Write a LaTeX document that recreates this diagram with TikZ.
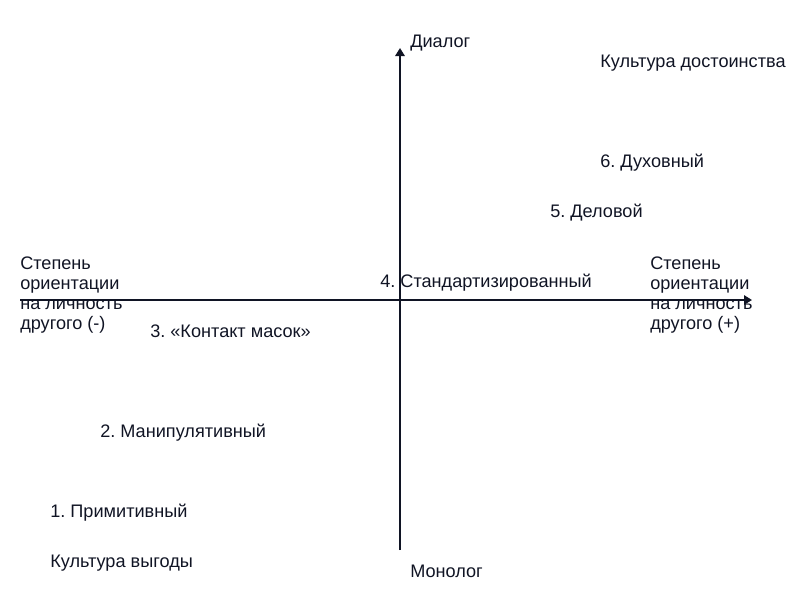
\documentclass[tikz,border=0pt]{standalone}
\usepackage{fontspec}
\setmainfont{Liberation Sans}
\usetikzlibrary{arrows.meta}
\definecolor{ink}{RGB}{16,20,36}
\begin{document}
\frenchspacing
\begin{tikzpicture}[x=0.75pt,y=-0.75pt,
  lbl/.style={anchor=base west,inner sep=0pt,font=\fontsize{13.6pt}{15pt}\selectfont\frenchspacing,text=ink},
  axis/.style={draw=ink,line width=1.5pt,-{Triangle[width=7pt,length=6pt]}}]
\useasboundingbox (0,0) rectangle (800,600);
\coordinate (vb) at (400,550);
\coordinate (vt) at (400,48);
\coordinate (hl) at (20,300);
\coordinate (hr) at (752,300);
\draw[axis] (vb) -- (vt);
\draw[axis] (hl) -- (hr);
\node[lbl] (dialog) at (410,47) {Диалог};
\node[lbl] (kdost) at (600,67) {Культура достоинства};
\node[lbl] (t6) at (600,167) {6. Духовный};
\node[lbl] (t5) at (550,217) {5. Деловой};
\node[lbl] (t4) at (380,287) {4. Стандартизированный};
\node[lbl,align=left] (right) at (650,329) {Степень\\ориентации\\на личность\\другого (+)};
\node[lbl,align=left] (left) at (20,329) {Степень\\ориентации\\на личность\\другого (-)};
\node[lbl] (t3) at (150,337) {3. «Контакт масок»};
\node[lbl] (t2) at (100,437) {2. Манипулятивный};
\node[lbl] (t1) at (50,517) {1. Примитивный};
\node[lbl] (kvyg) at (50,567) {Культура выгоды};
\node[lbl] (monolog) at (410,577) {Монолог};
\end{tikzpicture}
\end{document}
